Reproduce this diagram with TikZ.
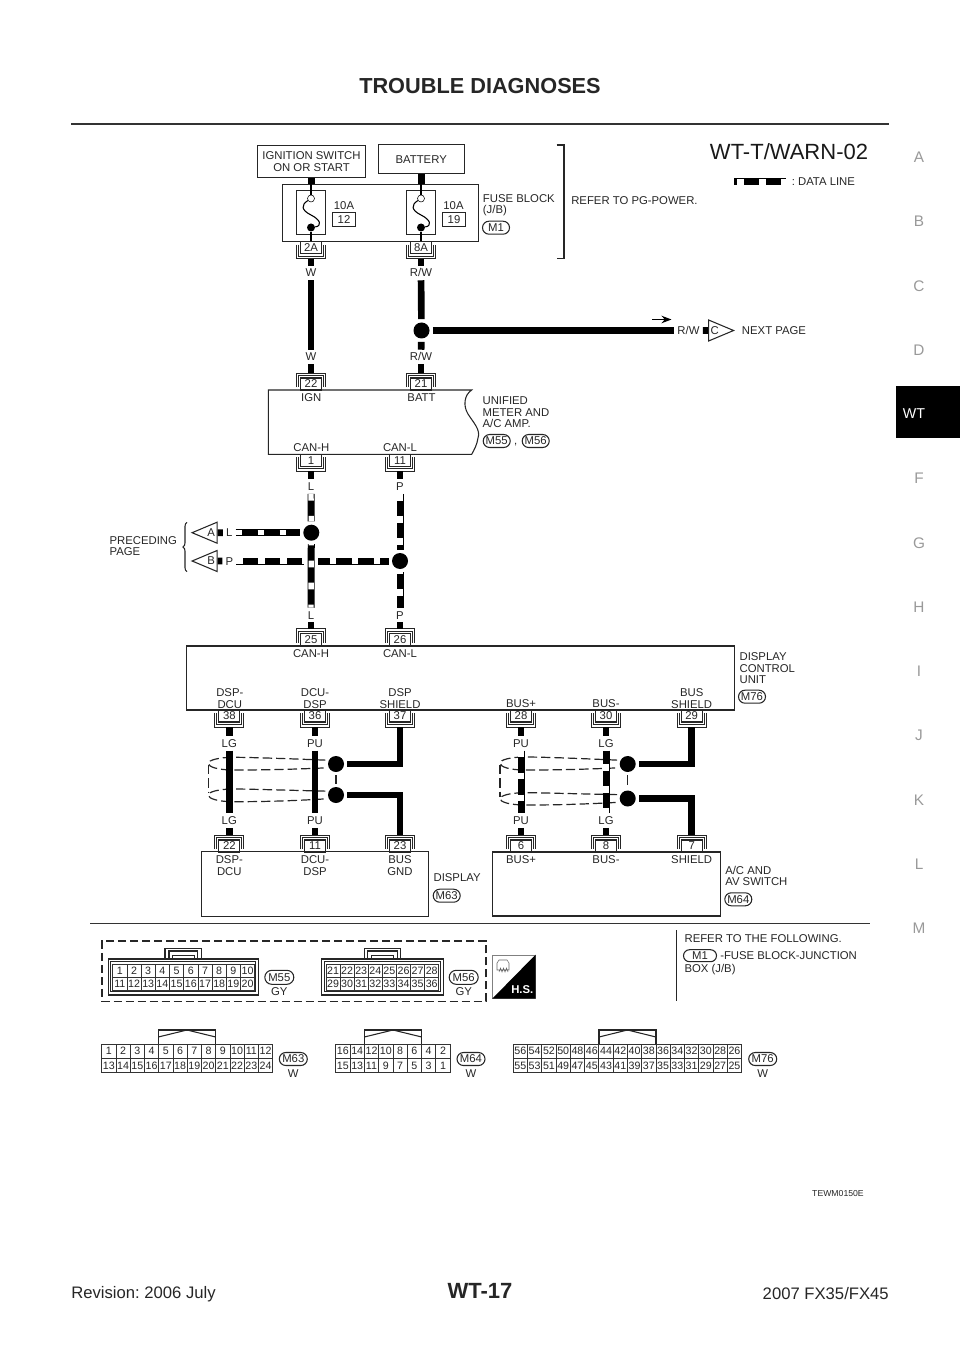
\documentclass[tikz,border=0pt]{standalone}
\usepackage{fontspec}
\setmainfont{Liberation Sans}
\frenchspacing
\usetikzlibrary{
  shapes,
  arrows.meta,
  decorations.pathreplacing,  % Brace
}
\newcommand{\fz}[1]{\fontsize{#1}{#1}\selectfont}
% Connector above / below the edge of a box: name, x, y of edge, number
\newcommand{\pinT}[4]{
  \node[pinbox] (#1) at (#2,#3-6) {#4};
  \draw[pinline] (#2-14.5,#3-3) -- (#2-14.5,#3-17) -- (#2+14.5,#3-17) -- (#2+14.5,#3-3);
  \draw[pinline] (#2-12.5,#3-3) -- (#2-12.5,#3-14.5) -- (#2+12.5,#3-14.5) -- (#2+12.5,#3-3);
  \coordinate (#1w) at (#2,#3-17);
}
\newcommand{\pinB}[4]{
  \node[pinbox] (#1) at (#2,#3+6) {#4};
  \draw[pinline] (#2-14.5,#3+3) -- (#2-14.5,#3+17) -- (#2+14.5,#3+17) -- (#2+14.5,#3+3);
  \draw[pinline] (#2-12.5,#3+3) -- (#2-12.5,#3+14.5) -- (#2+12.5,#3+14.5) -- (#2+12.5,#3+3);
  \coordinate (#1w) at (#2,#3+17);
}
% Fuse inside the fuse block: name, x
\newcommand{\fuseunit}[2]{
  \node[box,wd=28.7,ht=43.3] (#1) at (#2,212.6) {};
  \node[fuseopen] (#1a) at (#2,198.5) {};
  \node[fuseshut] (#1b) at (#2,227.5) {};
  \draw[thin wire] (#1a) -- (#1a |- fuseblock.north);
  \draw[thin wire] (#1b) -- (#1b |- fuseblock.south);
  \draw[thin wire] (#1a) .. controls (#2-10,205) and (#2-10,210) .. (#2,215)
                         .. controls (#2+10,220) and (#2+11,226) .. (#1b);
}
% Shield round a pair of wires: dot, left x, upper y, lower y
\newcommand{\shieldloop}[4]{
  \draw[shield] (#1.160) .. controls (#2+70,#3+1) and (#2+40,#3) .. (#2+25,#3)
                .. controls (#2+10,#3) and (#2,#3+3) .. (#2,#3+6)
                .. controls (#2,#4-3) and (#2+10,#4) .. (#2+25,#4)
                .. controls (#2+40,#4) and (#2+70,#4) .. (#1.200);
}
% One row of cavities: prefix, first centre x, y, cell width, cell height, numbers
\newcommand{\connrow}[6]{
  \foreach \n [count=\i from 0] in {#6}
    \node[cell,wd=#4,ht=#5] (#1-\n) at ({#2+\i*#4},#3) {\n};
}
\newcommand{\conntab}[4]{
  \draw[box line] (#2,#4) -- (#2,#4-14) -- (#3,#4-14) -- (#3,#4);
  \draw[box line] (#2,#4-7) -- ({(#2+#3)/2},#4-14) -- (#3,#4-7);
  \coordinate (#1) at ({(#2+#3)/2},#4);
}
\tikzset{
  >=Stealth,
  wd/.style={minimum width=#1*0.75pt},
  ht/.style={minimum height=#1*0.75pt},
  box line/.style={draw=black!85,line width=0.8pt},
  box/.style={
    box line,
    rectangle,
    inner sep=0pt
  },
  txt/.style={
    font=\fz{8.5},
    text=black!85,
    inner sep=0pt,
    align=center
  },
  txtl/.style={
    txt,
    anchor=west,
    align=left
  },
  stack/.style={
    txt,
    font=\fontsize{8.5}{8.6}\selectfont
  },
  stackl/.style={
    stack,
    anchor=west,
    align=left
  },
  wirelbl/.style={
    txt,
    text height=6pt,
    text depth=0pt,
    inner sep=2.25pt
  },
  pinbox/.style={
    box,
    wd=21,
    ht=12,
    font=\fz{8.5},
    text=black!85
  },
  pinline/.style={draw=black!85,line width=0.6pt},
  pill/.style={
    box,
    rounded rectangle,
    wd=27,
    ht=13,
    font=\fz{8.5},
    text=black!85
  },
  wire/.style={line width=5pt},
  datawire/.style={
    line width=5.25pt,
    postaction={draw=white,line width=4pt,dash pattern=on 5pt off 11.5pt,dash phase=#1}
  },
  datawire/.default=0pt,
  thin wire/.style={line width=0.8pt},
  shield/.style={draw=black!85,line width=0.9pt,dash pattern=on 7pt off 3pt},
  jdot/.style={
    circle,
    fill=black,
    minimum size=16*0.75pt,
    inner sep=0pt,
    outer sep=2.5pt
  },
  fuseopen/.style={circle,draw,fill=white,minimum size=7*0.75pt,inner sep=0pt},
  fuseshut/.style={circle,fill=black,minimum size=8*0.75pt,inner sep=0pt},
  pagetri/.style={
    box,
    isosceles triangle,
    isosceles triangle stretches=true,
    minimum height=25*0.75pt,
    minimum width=21*0.75pt,
    anchor=apex,
    font=\fz{8.5},
    text=black!85
  },
  cell/.style={
    rectangle,
    draw=black!80,
    line width=0.6pt,
    inner sep=0pt,
    font=\fz{8},
    text=black!85
  },
  side/.style={font=\fz{11.5},text=black!40,inner sep=0pt},
  page/.style={font=\fz{12.5},text=black!85,inner sep=0pt}
}
\begin{document}
\begin{tikzpicture}[x=0.75pt,y=-0.75pt]
\useasboundingbox (0,0) rectangle (960,1358);
% Page furniture
\node[font=\bfseries\fz{16.3},text=black!85,inner sep=0pt] (title) at (480,86) {TROUBLE DIAGNOSES};
\coordinate (ruleL) at (71,124);
\coordinate (ruleR) at (889,124);
\draw[black!80,line width=1.8pt] (ruleL) -- (ruleR);
\node[font=\bfseries\fz{16.5},text=black!85,inner sep=0pt] (pageno) at (480,1291) {WT-17};
\node[page,anchor=west] (rev) at (71,1294) {Revision: 2006 July};
\node[page,anchor=east] (model) at (889,1294) {2007 FX35/FX45};
\foreach \s/\y in {A/157,B/221,C/286,D/350,F/478,G/543,H/607,I/671,J/735,K/800,L/864,M/928}
  \node[side] (side\s) at (919,\y) {\s};
\node[fill=black,wd=64,ht=52,inner sep=0pt] (sideBox) at (928,412.3) {};
\node[inner sep=0pt,font=\fz{10.7},text=white] (sideWT) at (914,414) {WT};
\node[font=\fz{16.5},text=black!90,inner sep=0pt] (wdname) at (789,152) {WT-T/WARN-02};
\coordinate (legA) at (734,182);
\coordinate (legB) at (786,182);
\draw[datawire=14.25pt] (legA) -- (legB);
\node[txtl] (legT) at (791.5,182) {: DATA LINE};
% Fuse block
\node[box,wd=107.5,ht=32.5,stack] (ign) at (311.5,161.5) {IGNITION SWITCH\\ON OR START};
\node[box,wd=85.7,ht=28.5,txt] (batt) at (421.2,159.2) {BATTERY};
\node[box,wd=196,ht=57.4] (fuseblock) at (380.7,213) {};
\fuseunit{f1}{311}
\fuseunit{f2}{421}
\draw[wire] (ign.south) -- (ign.south |- fuseblock.north);
\draw[wire] (batt.south) -- (batt.south |- fuseblock.north);
\node[txt] (a10) at (344,206) {10A};
\node[pinbox,wd=22.3,ht=14.4] (fu12) at (344,219.5) {12};
\node[txt] (a19) at (453.5,206) {10A};
\node[pinbox,wd=22.3,ht=14.4] (fu19) at (454,219.5) {19};
\node[stackl] (fbtxt) at (482.7,205) {FUSE BLOCK\\(J/B)};
\node[pill] (m1) at (496,227.7) {M1};
\coordinate (brA) at (556.7,145);
\coordinate (brB) at (564,145);
\coordinate (brC) at (564,258.5);
\coordinate (brD) at (556.7,258.5);
\draw[thin wire,black!85] (brA) -- (brB) -- (brC) -- (brD);
\node[txtl] (pgtxt) at (571,201) {REFER TO PG-POWER.};
\pinB{p2A}{311}{241.7}{2A}
\pinB{p8A}{421}{241.7}{8A}
\node[wirelbl] (lW1) at (311,273) {W};
\node[wirelbl] (lRW1) at (421,273) {R/W};
\node[wirelbl] (lW2) at (311,357) {W};
\node[wirelbl] (lRW2) at (421,357) {R/W};
\node[jdot] (dotRW) at (421.5,330.5) {};
\pinT{p22}{311}{390}{22}
\pinT{p21}{421}{390}{21}
\draw[wire] (p2Aw) -- (lW1);
\draw[wire] (lW1) -- (lW2);
\draw[wire] (lW2) -- (p22w);
\draw[wire] (p8Aw) -- (lRW1);
\draw[wire] (lRW1) -- (dotRW);
\draw[wire] (dotRW) -- (lRW2);
\draw[wire] (lRW2) -- (p21w);
% Next page
\node[wirelbl] (lRW3) at (688.5,330.5) {R/W};
\node[pagetri] (triC) at (735,330.5) {C};
\node[txtl] (nexttxt) at (741.7,330.5) {NEXT PAGE};
\draw[wire] (dotRW) -- (lRW3);
\draw[wire] (lRW3) -- (triC.west);
\coordinate (flowA) at (652,319.5);
\coordinate (flowB) at (671.5,319.5);
\draw[->,line width=1pt] (flowA) -- (flowB);
% Unified meter
\draw[box line] (268.3,390) -- (471.7,390) .. controls (464,395) and (463,406) .. (468,414)
  .. controls (473,422) and (481,430) .. (478,438) .. controls (477,445) and (474,450) .. (471.7,454.3)
  -- (268.3,454.3) -- cycle;
\node[txt] (tIGN) at (311.3,397.7) {IGN};
\node[txt] (tBATT) at (421.5,397.7) {BATT};
\node[txt] (tCH1) at (311.3,447.7) {CAN-H};
\node[txt] (tCL1) at (400,447.7) {CAN-L};
\node[stackl] (umtxt) at (482.3,412.5) {UNIFIED\\METER AND\\A/C AMP.};
\node[pill] (m55) at (496.7,441) {M55};
\node[txt] (comma) at (515.7,445) {,};
\node[pill] (m56) at (535.7,441) {M56};
\pinB{p1}{311}{454.3}{1}
\pinB{p11}{400}{454.3}{11}
% CAN lines
\node[wirelbl] (lL1) at (311,486.7) {L};
\node[wirelbl] (lP1) at (400,486.7) {P};
\node[wirelbl] (lL2) at (311,615) {L};
\node[wirelbl] (lP2) at (400,615) {P};
\node[jdot] (dotL) at (311.3,532.7) {};
\node[jdot] (dotP) at (400,561) {};
\node[inner sep=0pt,minimum size=14*0.75pt] (jump) at (311,561) {};
\node[pagetri,shape border rotate=180] (triA) at (190.7,532.7) {A};
\node[pagetri,shape border rotate=180] (triB) at (190.7,561) {B};
\node[wirelbl] (lL3) at (229.3,532.7) {L};
\node[wirelbl] (lP3) at (229.3,561) {P};
\pinT{p25}{311}{645.7}{25}
\pinT{p26}{400}{645.7}{26}
\draw[wire] (p1w) -- (lL1);
\draw[wire] (p11w) -- (lP1);
\draw[wire] (lL2) -- (p25w);
\draw[wire] (lP2) -- (p26w);
\draw[wire] (triA.east) -- (lL3);
\draw[wire] (triB.east) -- (lP3);
\draw[datawire] (lL1) -- (dotL);
\draw[datawire] (lP1) -- (dotP);
\draw[datawire=4pt] (dotL) -- (lL2);
\draw[datawire=4pt] (dotP) -- (lP2);
\draw[datawire] (lL3) -- (dotL);
\draw[datawire] (lP3) -- (jump);
\draw[datawire=8pt] (jump) -- (dotP);
\coordinate (brcA) at (187,571.7);
\coordinate (brcB) at (187,522.3);
\draw[thin wire,black!85,decorate,decoration={brace,amplitude=3pt}] (brcA) -- (brcB);
\node[stackl] (prectxt) at (109.3,546) {PRECEDING\\PAGE};
% Display control unit
\node[box,wd=548.3,ht=64] (dcu) at (460.8,678) {};
\node[txt] (tCH2) at (311,654) {CAN-H};
\node[txt] (tCL2) at (400,654) {CAN-L};
\node[stack] (t38) at (229.8,698.5) {DSP-\\DCU};
\node[stack] (t36) at (315,698.5) {DCU-\\DSP};
\node[stack] (t37) at (400,698.5) {DSP\\SHIELD};
\node[txt] (t28) at (521,704) {BUS+};
\node[txt] (t30) at (606,704) {BUS-};
\node[stack] (t29) at (691.7,698.5) {BUS\\SHIELD};
\node[stackl] (dcutxt) at (739.3,668.3) {DISPLAY\\CONTROL\\UNIT};
\node[pill] (m76) at (752,696.7) {M76};
\pinB{p38}{229.3}{710}{38}
\pinB{p36}{315}{710}{36}
\pinB{p37}{400}{710}{37}
\pinB{p28}{521}{710}{28}
\pinB{p30}{606}{710}{30}
\pinB{p29}{691.7}{710}{29}
% Display and switch
\node[box,wd=227.7,ht=64.7] (disp) at (314.9,884.3) {};
\node[stack] (tD1) at (229.3,865.5) {DSP-\\DCU};
\node[stack] (tD2) at (315,865.5) {DCU-\\DSP};
\node[stack] (tD3) at (400,865.5) {BUS\\GND};
\node[txtl] (disptxt) at (433.3,877.7) {DISPLAY};
\node[pill] (m63) at (446.7,895.7) {M63};
\node[box,wd=227.7,ht=64] (acsw) at (606.2,884) {};
\node[txt] (tS1) at (521,860) {BUS+};
\node[txt] (tS2) at (606,860) {BUS-};
\node[txt] (tS3) at (691.7,860) {SHIELD};
\node[stackl] (acswtxt) at (725,876.2) {A/C AND\\AV SWITCH};
\node[pill] (m64) at (738.3,899.3) {M64};
\pinT{p22d}{229.3}{852}{22}
\pinT{p11d}{315}{852}{11}
\pinT{p23d}{400}{852}{23}
\pinT{p6}{521}{852}{6}
\pinT{p8}{606}{852}{8}
\pinT{p7}{691.7}{852}{7}
% Shielded pairs
\node[jdot] (dotS1) at (336,764) {};
\node[jdot] (dotS2) at (336,795) {};
\node[jdot] (dotS3) at (627.7,764) {};
\node[jdot] (dotS4) at (627.7,798.5) {};
\shieldloop{dotS1}{208.3}{757.3}{770}
\shieldloop{dotS2}{208.3}{789}{801.7}
\shieldloop{dotS3}{500}{757}{770}
\shieldloop{dotS4}{500}{792.7}{805}
\coordinate (sideA) at (208.3,765);
\coordinate (sideB) at (208.3,793);
\coordinate (sideC) at (500,765);
\coordinate (sideD) at (500,797);
\draw[shield] (sideA) -- (sideB);
\draw[shield] (sideC) -- (sideD);
\draw[shield] (dotS1) -- (dotS2);
\draw[shield] (dotS3) -- (dotS4);
\node[wirelbl] (lA1) at (229.3,743.3) {LG};
\node[wirelbl] (lA2) at (229.3,820.7) {LG};
\node[wirelbl] (lB1) at (315,743.3) {PU};
\node[wirelbl] (lB2) at (315,820.7) {PU};
\node[wirelbl] (lC1) at (521,743.3) {PU};
\node[wirelbl] (lC2) at (521,820.7) {PU};
\node[wirelbl] (lD1) at (606,743.3) {LG};
\node[wirelbl] (lD2) at (606,820.7) {LG};
\foreach \a/\b/\c/\d in {p38/lA1/lA2/p22d,p36/lB1/lB2/p11d,p28/lC1/lC2/p6,p30/lD1/lD2/p8}{
  \draw[wire] (\a w) -- (\b);
  \draw[wire] (\c) -- (\d w);
}
\draw[wire] (lA1) -- (lA2);
\draw[wire] (lB1) -- (lB2);
\draw[datawire] (lC1) -- (lC2);
\draw[datawire=6.5pt] (lD1) -- (lD2);
\draw[wire] (dotS1) -- (dotS1 -| p37w) -- (p37w);
\draw[wire] (dotS2) -- (dotS2 -| p23dw) -- (p23dw);
\draw[wire] (dotS3) -- (dotS3 -| p29w) -- (p29w);
\draw[wire] (dotS4) -- (dotS4 -| p7w) -- (p7w);
% Harness connectors
\coordinate (sepA) at (90,923.3);
\coordinate (sepB) at (870,923.3);
\draw[black!80,line width=1.2pt] (sepA) -- (sepB);
\node[draw=black!85,line width=1.2pt,dash pattern=on 6pt off 3pt,wd=384,ht=60.3,inner sep=0pt] (hsframe) at (293.7,971.2) {};
% M55
\node[box,wd=150,ht=36] (c55) at (183.3,977) {};
\node[box,wd=144.7,ht=30] (c55i) at (183.3,976.8) {};
\draw[box line] (165,959) -- (165,948.3) -- (201.7,948.3) -- (201.7,959);
\draw[box line] (169,959) -- (169,951) -- (197.7,951) -- (197.7,959);
\node[box,wd=22,ht=4.5] (t55) at (183.3,957.5) {};
\connrow{m55a}{119.8}{971}{14.2}{12.7}{1,2,3,4,5,6,7,8,9,10}
\connrow{m55b}{119.8}{983.7}{14.2}{12.7}{11,12,13,14,15,16,17,18,19,20}
\node[pill,wd=29,ht=14] (pm55) at (279.3,977.3) {M55};
\node[txt] (gy55) at (279.3,991.7) {GY};
% M56
\node[box,wd=121.6,ht=36] (c56) at (382.5,977) {};
\node[box,wd=116.4,ht=30] (c56i) at (382.5,976.8) {};
\draw[box line] (364.3,959) -- (364.3,948.3) -- (400.3,948.3) -- (400.3,959);
\draw[box line] (367.3,959) -- (367.3,951) -- (397.7,951) -- (397.7,959);
\node[box,wd=21.6,ht=4.5] (t56) at (382.5,957.5) {};
\connrow{m56a}{333}{971}{14.1}{12.7}{21,22,23,24,25,26,27,28}
\connrow{m56b}{333}{983.7}{14.1}{12.7}{29,30,31,32,33,34,35,36}
\node[pill,wd=29,ht=14] (pm56) at (463.7,977.3) {M56};
\node[txt] (gy56) at (463.7,991.7) {GY};
% Harness symbol
\node[draw=black!50,line width=0.6pt,wd=42.6,ht=43.3,inner sep=0pt] (hs) at (514,976.6) {};
\fill[black] (hs.north east) -- (hs.south east) -- (hs.south west) -- cycle;
\node[font=\bfseries\fz{8.5},text=white,inner sep=0pt] (hstxt) at (522.3,990) {H.S.};
\draw[black!60,line width=0.4pt] (497,963) -- (499,960) -- (507,960) -- (509,963) -- (509,970) -- (497,970) -- cycle
  (499,972) -- (500.5,968) -- (502,972) -- (503.5,968) -- (505,972) -- (506.5,968) -- (508,972);
% Refer
\coordinate (refA) at (676.7,930);
\coordinate (refB) at (676.7,1001);
\draw[black!85,line width=1pt] (refA) -- (refB);
\node[txtl] (reftxt) at (684.3,939) {REFER TO THE FOLLOWING.};
\node[pill,wd=33,ht=12] (refm1) at (700,955.7) {M1};
\node[txtl] (reffuse) at (720,956) {-FUSE BLOCK-JUNCTION};
\node[txtl] (refbox) at (684.3,969.3) {BOX (J/B)};
% M63
\conntab{tab63}{158.3}{215.7}{1044}
\connrow{m63a}{108.8}{1051.2}{14.25}{14.4}{1,2,3,4,5,6,7,8,9,10,11,12}
\connrow{m63b}{108.8}{1065.6}{14.25}{14.4}{13,14,15,16,17,18,19,20,21,22,23,24}
\node[pill,wd=28] (pm63) at (293.3,1059) {M63};
\node[txt] (w63) at (293.3,1073.3) {W};
% M64
\conntab{tab64}{364.3}{421.7}{1044}
\connrow{m64a}{342.9}{1051.2}{14.3}{14.4}{16,14,12,10,8,6,4,2}
\connrow{m64b}{342.9}{1065.6}{14.3}{14.4}{15,13,11,9,7,5,3,1}
\node[pill,wd=28] (pm64) at (471,1059) {M64};
\node[txt] (w64) at (471,1073.3) {W};
% M76
\conntab{tab76}{599}{656}{1044}
\connrow{m76a}{520.4}{1051.2}{14.27}{14.4}{56,54,52,50,48,46,44,42,40,38,36,34,32,30,28,26}
\connrow{m76b}{520.4}{1065.6}{14.27}{14.4}{55,53,51,49,47,45,43,41,39,37,35,33,31,29,27,25}
\node[pill,wd=28] (pm76) at (762.7,1059) {M76};
\node[txt] (w76) at (762.7,1073.3) {W};
\node[font=\fz{6.5},text=black!85,inner sep=0pt,anchor=east] (figid) at (864,1194) {TEWM0150E};
\end{tikzpicture}
\end{document}
